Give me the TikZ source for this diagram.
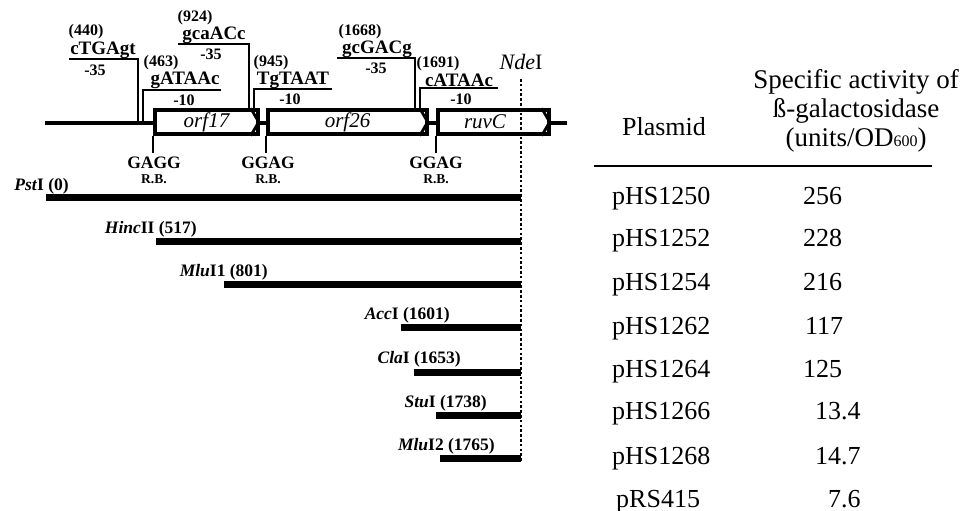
\documentclass[tikz,border=0pt]{standalone}
\usepackage{fontspec}
\setmainfont{Liberation Serif}
\usetikzlibrary{positioning, calc}
\tikzset{
    dna/.style      ={line width=3.2pt},
    gene/.style     ={rectangle, draw=black, line width=3.4pt, fill=white, minimum height=24pt, inner sep=0pt, font=\itshape\fontsize{21}{21}\selectfont},
    chevron/.style  ={line width=2.8pt},
    promline/.style ={line width=2.2pt},
    seqlabel/.style ={inner sep=0pt, font=\bfseries\fontsize{19}{19}\selectfont},
    poslabel/.style ={inner sep=0pt, font=\bfseries\fontsize{16}{16}\selectfont},
    rbs/.style      ={inner sep=0pt, font=\bfseries\fontsize{17.5}{17.5}\selectfont},
    rbsnote/.style  ={inner sep=0pt, font=\bfseries\fontsize{13.5}{13.5}\selectfont},
    fragment/.style ={line width=7pt},
    sitelabel/.style={inner sep=0pt, anchor=east, font=\bfseries\fontsize{17.5}{17.5}\selectfont},
    cell/.style     ={inner sep=0pt, anchor=base west, font=\fontsize{26}{26}\selectfont},
}

\begin{document}
\begin{tikzpicture}[x=1pt, y=-1pt]
    \useasboundingbox (0,0) rectangle (961,511);

    % map of the region
    \draw[dna] (45,123) -- (567,123);
    \node[gene, minimum width=103pt] (orf17) at (206.5,122) {orf17};
    \node[gene, minimum width=159pt] (orf26) at (347.5,122) {orf26};
    \node[gene, minimum width=111pt] (ruvC)  at (493.5,122) {};
    \node[inner sep=0pt, font=\itshape\fontsize{21}{21}\selectfont] (ruvCname) at (485,122) {ruvC};
    \draw[chevron] ([xshift=-9pt]orf17.north east) -- ([xshift=-1pt]orf17.east) -- ([xshift=-9pt]orf17.south east);
    \draw[chevron] ([xshift=-9pt]orf26.north east) -- ([xshift=-1pt]orf26.east) -- ([xshift=-9pt]orf26.south east);
    \draw[chevron] ([xshift=-9pt]ruvC.north east) -- ([xshift=-1pt]ruvC.east) -- ([xshift=-9pt]ruvC.south east);

    % promoters
    \node[poslabel] (p440) at (86,32) {(440)};
    \node[seqlabel] (s440) at (103,50) {cTGAgt};
    \node[poslabel] (m440) at (95,70) {-35};
    \draw[promline] (69,59) -- (138,59) -- (138,123);

    \node[poslabel] (p463) at (161,63) {(463)};
    \node[seqlabel] (s463) at (185,80) {gATAAc};
    \node[poslabel] (m463) at (184,100) {-10};
    \draw[promline] (221,90) -- (143,90) -- (143,123);

    \node[poslabel] (p924) at (195,18) {(924)};
    \node[seqlabel] (s924) at (214,35) {gcaACc};
    \node[poslabel] (m924) at (211,54) {-35};
    \draw[promline] (178,44) -- (249,44) -- (249,110);

    \node[poslabel] (p945) at (271,63) {(945)};
    \node[seqlabel] (s945) at (293,80) {TgTAAT};
    \node[poslabel] (m945) at (290,99) {-10};
    \draw[promline] (332,89) -- (254,89) -- (254,110);

    \node[poslabel] (p1668) at (360,32) {(1668)};
    \node[seqlabel] (s1668) at (377,49) {gcGACg};
    \node[poslabel] (m1668) at (376,68) {-35};
    \draw[promline] (337,58) -- (415,58) -- (415,110);

    \node[poslabel] (p1691) at (438,64) {(1691)};
    \node[seqlabel] (s1691) at (459,80) {cATAAc};
    \node[poslabel] (m1691) at (461,99) {-10};
    \draw[promline] (498,88) -- (420,88) -- (420,110);

    % ribosome binding sites
    \draw[promline] (orf17.south west) -- ++(0,17);
    \draw[promline] (orf26.south west) -- ++(0,17);
    \draw[promline] (ruvC.south west) -- ++(0,17);
    \node[rbs] (rb1) at (154,163) {GAGG};
    \node[rbsnote] (rb1n) at (154,179) {R.B.};
    \node[rbs] (rb2) at (268,163) {GGAG};
    \node[rbsnote] (rb2n) at (268,179) {R.B.};
    \node[rbs] (rb3) at (436,163) {GGAG};
    \node[rbsnote] (rb3n) at (436,179) {R.B.};

    % NdeI site and deletion fragments
    \node[inner sep=0pt, font=\fontsize{22}{22}\selectfont] (nde) at (521,62) {\textit{Nde}I};
    \coordinate (ndetop) at (521,79);
    \coordinate (ndebot) at (521,462);
    \draw[line width=2.6pt, dash pattern=on 2.6pt off 2.2pt] (ndetop) -- (ndebot);

    \node[sitelabel] (pst)  at (69,186)  {\textit{Pst}I (0)};
    \draw[fragment] (46,197) -- (521,197);
    \node[sitelabel] (hinc) at (197,229) {\textit{Hinc}II (517)};
    \draw[fragment] (156,241) -- (521,241);
    \node[sitelabel] (mlu1) at (268,272) {\textit{Mlu}I1 (801)};
    \draw[fragment] (224,284) -- (521,284);
    \node[sitelabel] (acc)  at (450,315) {\textit{Acc}I (1601)};
    \draw[fragment] (401,327) -- (521,327);
    \node[sitelabel] (cla)  at (461,359) {\textit{Cla}I (1653)};
    \draw[fragment] (414,372) -- (521,372);
    \node[sitelabel] (stu)  at (487,403) {\textit{Stu}I (1738)};
    \draw[fragment] (436,415) -- (521,415);
    \node[sitelabel] (mlu2) at (495,446) {\textit{Mlu}I2 (1765)};
    \draw[fragment] (440,458) -- (521,458);

    % activity table
    \node[inner sep=0pt, font=\fontsize{26}{26}\selectfont] (plasmidhead) at (664,127) {Plasmid};
    \node[inner sep=0pt, align=center, font=\fontsize{27}{29}\selectfont] (acthead) at (856,111)
        {Specific activity of\\ß-galactosidase\\(units/OD{\fontsize{16}{16}\selectfont 600})};
    \draw[line width=1.6pt] (594,166) -- (932,166);

    \node[cell] (n1250) at (612,204) {pHS1250};  \node[cell] (v1250) at (803,204) {256};
    \node[cell] (n1252) at (612,246) {pHS1252};  \node[cell] (v1252) at (803,246) {228};
    \node[cell] (n1254) at (612,290) {pHS1254};  \node[cell] (v1254) at (803,290) {216};
    \node[cell] (n1262) at (612,334) {pHS1262};  \node[cell] (v1262) at (805,334) {117};
    \node[cell] (n1264) at (612,377) {pHS1264};  \node[cell] (v1264) at (803,377) {125};
    \node[cell] (n1266) at (612,419) {pHS1266};  \node[cell] (v1266) at (815,419) {13.4};
    \node[cell] (n1268) at (612,464) {pHS1268};  \node[cell] (v1268) at (815,464) {14.7};
    \node[cell] (n415)  at (616,507) {pRS415};   \node[cell] (v415)  at (828,507) {7.6};
\end{tikzpicture}
\end{document}
